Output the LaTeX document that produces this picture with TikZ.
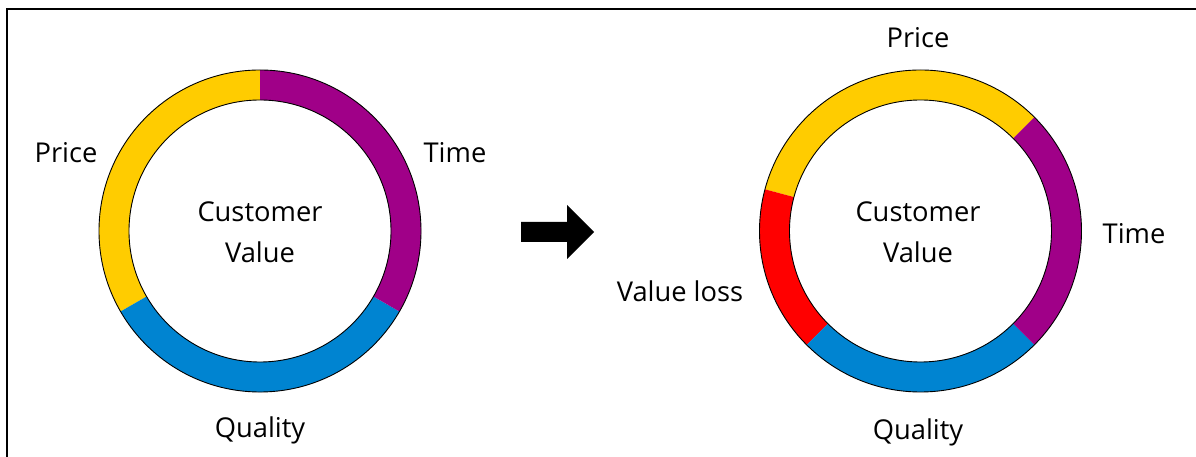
\documentclass[tikz,border=0pt]{standalone}
\usepackage{fontspec}
\setmainfont{Open Sans}
\usetikzlibrary{calc}
\definecolor{ringyellow}{HTML}{FFCC00}
\definecolor{ringpurple}{HTML}{A00088}
\definecolor{ringblue}{HTML}{0084D1}
\definecolor{ringred}{HTML}{FF0000}
% annular sector: centre, start angle, end angle, colour
\newcommand\ringseg[4]{%
  \fill[#4] ($(#1)+(#2:161)$) arc[start angle=#2,end angle=#3,radius=161]
    -- ($(#1)+(#3:131)$) arc[start angle=#3,end angle=#2,radius=131] -- cycle;}
\begin{document}
\begin{tikzpicture}[x=1pt,y=1pt,
  lbl/.style={font=\fontsize{27.3}{32}\selectfont, anchor=base, inner sep=0pt},
  ringline/.style={draw=black, line width=0.9pt}]
\useasboundingbox (0,0) rectangle (1196,457);
% frame
\draw[line width=1.3pt] (7,0) -- (7,448) -- (1196,448);

% left ring
\coordinate (L) at (260,226);
\ringseg{L}{90}{210}{ringyellow}
\ringseg{L}{210}{330}{ringblue}
\ringseg{L}{-30}{90}{ringpurple}
\draw[ringline] (L) circle[radius=161];
\draw[ringline] (L) circle[radius=131];
\node[lbl] (lcust) at (260,235.5) {Customer};
\node[lbl] (lval) at (260,194.5) {Value};
\node[lbl] (lprice) at (66,294.5) {Price};
\node[lbl] (ltime) at (455,294.5) {Time};
\node[lbl] (lqual) at (260,19) {Quality};

% arrow between the rings
\fill (521,235) -- (567,235) -- (567,252) -- (594,225) -- (567,198) -- (567,215) -- (521,215) -- cycle;

% right ring
\coordinate (R) at (920.5,226);
\ringseg{R}{45}{165}{ringyellow}
\ringseg{R}{165}{225}{ringred}
\ringseg{R}{225}{315}{ringblue}
\ringseg{R}{-45}{45}{ringpurple}
\draw[ringline] (R) circle[radius=161];
\draw[ringline] (R) circle[radius=131];
\node[lbl] (rcust) at (918,235.5) {Customer};
\node[lbl] (rval) at (918,194.5) {Value};
\node[lbl] (rprice) at (918,409.5) {Price};
\node[lbl] (rtime) at (1134,213.5) {Time};
\node[lbl] (rloss) at (680,155.5) {Value loss};
\node[lbl] (rqual) at (918,17) {Quality};
\end{tikzpicture}
\end{document}
